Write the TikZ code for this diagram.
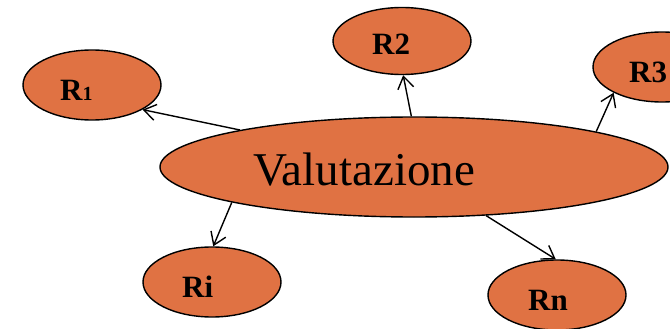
\documentclass[tikz,border=0pt]{standalone}
\usepackage{fontspec}
\setmainfont{Liberation Serif}
\usetikzlibrary{shapes.geometric,arrows.meta}
\definecolor{nodeorange}{HTML}{E07243}
\tikzset{
  bubble/.style={ellipse, draw=black, line width=1.4pt, fill=nodeorange, inner sep=0pt},
  rlabel/.style={anchor=base west, inner sep=0pt, font=\bfseries\fontsize{31}{31}\selectfont},
  link/.style={line width=1.4pt, -{Straight Barb[length=12pt,width=16pt,line width=1.4pt]}}
}
\begin{document}
\begin{tikzpicture}[x=1pt,y=-1pt]
  \useasboundingbox (0,0) rectangle (670,329);
  % satellite ellipses
  \node[bubble, minimum width=138pt, minimum height=70pt] (r1) at (92,85) {};
  \node[bubble, minimum width=138pt, minimum height=67pt] (r2) at (402,41) {};
  \node[bubble, minimum width=138pt, minimum height=70pt] (r3) at (662,67) {};
  \node[bubble, minimum width=138pt, minimum height=70pt] (ri) at (212,282) {};
  \node[bubble, minimum width=138pt, minimum height=70pt] (rn) at (557,295) {};
  % central ellipse
  \node[bubble, minimum width=508pt, minimum height=100pt] (v) at (414,167) {};
  % labels
  \node[anchor=base west, inner sep=0pt, font=\fontsize{47}{47}\selectfont] (vt) at (253,185) {Valutazione};
  \node[rlabel] (t1) at (60,101) {R{\fontsize{20}{20}\selectfont 1}};
  \node[rlabel] (t2) at (372,55) {R2};
  \node[rlabel] (t3) at (629,83) {R3};
  \node[rlabel] (ti) at (182,297) {Ri};
  \node[rlabel] (tn) at (528,310) {Rn};
  % connectors
  \draw[link] (v.168.7) -- (r1.-26.6);
  \draw[link] (v.93.4) -- (r2.-88);
  \draw[link] (v.11.9) -- (r3.208.9);
  \draw[link] (v.191.6) -- (ri.88);
  \draw[link] (v.-34.2) -- (rn.92);
\end{tikzpicture}
\end{document}
